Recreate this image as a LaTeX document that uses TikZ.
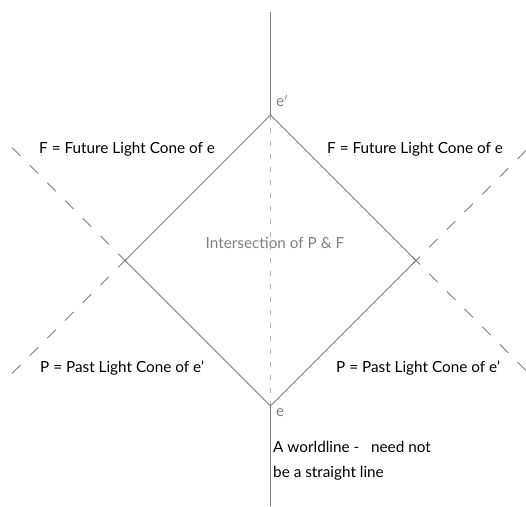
\documentclass[tikz,border=0pt]{standalone}
\usepackage{fontspec}
\setmainfont{Lato}
\begin{document}
\begin{tikzpicture}[x=1pt,y=-1pt,
  cone/.style={draw=black!50, line width=0.9pt},
  conext/.style={draw=black!50, line width=0.9pt, dash pattern=on 12pt off 13pt},
  axisdash/.style={draw=black!30, line width=0.8pt, dash pattern=on 5pt off 8pt},
  lbl/.style={font=\fontsize{15.3}{18}\selectfont, text=black, inner sep=0pt},
  glbl/.style={font=\fontsize{15.3}{18}\selectfont, text=black!50, inner sep=0pt}]
  \useasboundingbox (0,0) rectangle (526,506);

  % events and the corners of the intersection region
  \coordinate (ep) at (270.5,115);
  \coordinate (ev) at (270.5,406);
  \coordinate (L) at (125,260.5);
  \coordinate (R) at (416,260.5);

  % free ends of the worldline and of the light-cone extensions
  \coordinate (wtop) at (270.5,12);
  \coordinate (wbot) at (270.5,506);
  \coordinate (ul) at (12,147.5);
  \coordinate (dl) at (12,373.5);
  \coordinate (ur) at (526,150.5);
  \coordinate (dr) at (526,370.5);
  \coordinate (Lx1) at (133,268.5);
  \coordinate (Lx2) at (133,252.5);
  \coordinate (Rx1) at (408,268.5);
  \coordinate (Rx2) at (408,252.5);

  % worldline, solid outside the region
  \draw[cone] (wtop) -- (ep);
  \draw[cone] (ev) -- (wbot);

  % straight segment from e to e' inside the region
  \draw[axisdash] (ep) -- (ev);

  % intersection of the two cones
  \draw[cone] (ep) -- (R) -- (ev) -- (L) -- cycle;

  % cones continued outside the region
  \draw[conext] (ul) -- (Lx1);
  \draw[conext] (dl) -- (Lx2);
  \draw[conext] (ur) -- (Rx1);
  \draw[conext] (dr) -- (Rx2);

  % labels
  \node[glbl, anchor=west] (lep) at (276,101) {e$'$};
  \node[glbl, anchor=west] (lev) at (276,413) {e};
  \node[glbl] (inter) at (275,243) {Intersection of P \& F};
  \node[lbl, anchor=west] (fl) at (39,149) {F = Future Light Cone of e};
  \node[lbl, anchor=west] (fr) at (327,149) {F = Future Light Cone of e};
  \node[lbl, anchor=west] (pl) at (40,368) {P = Past Light Cone of e’};
  \node[lbl, anchor=west] (pr) at (336,368) {P = Past Light Cone of e’};
  \node[lbl, anchor=north west, align=left, font=\fontsize{15.3}{25}\selectfont] (wl) at (273,441) {A worldline -\ \ \ need not\\be a straight line};
\end{tikzpicture}
\end{document}
